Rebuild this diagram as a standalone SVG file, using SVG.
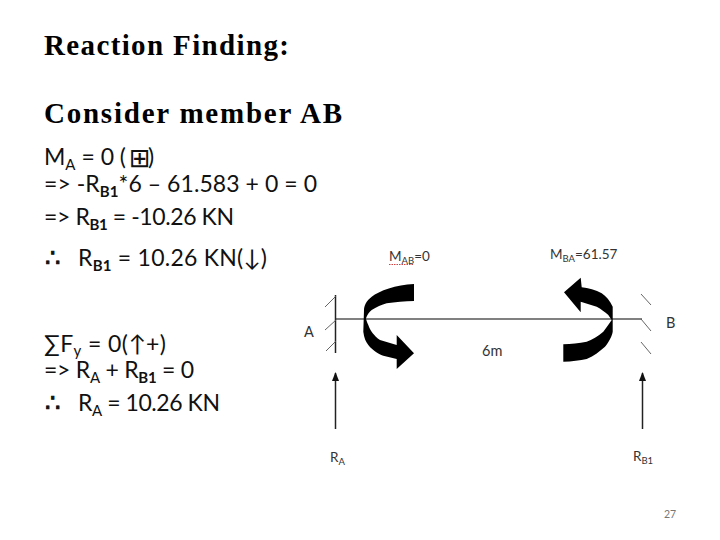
<svg xmlns="http://www.w3.org/2000/svg" width="720" height="540" viewBox="0 0 720 540">
<style>
.h{font:bold 29px "Liberation Serif",serif;fill:#000}
.b{font:23px Lato,"Noto Sans",sans-serif;fill:#111}
.s{font-size:15px;font-weight:400}
.sb{font-size:15px;font-weight:700}
.t{font:13.5px Lato,"Noto Sans",sans-serif;fill:#333}
.l{font:14.500px Lato,"Noto Sans",sans-serif;fill:#333}
.ts{font-size:9.5px}
.d{font:24px "DejaVu Sans",sans-serif;fill:#111}
.th{stroke:#111;stroke-width:.9}
.hatch{stroke:#555;stroke-width:.9;fill:none}
.shaft{stroke:#222;stroke-width:1.5;fill:none}
</style>
<defs>
<marker id="up" markerWidth="9" markerHeight="8" refX="8" refY="3.500" orient="auto" markerUnits="userSpaceOnUse" viewBox="0 0 9 7"><path d="M0 0L9 3.500L0 7Z" fill="#111"/></marker>
</defs>
<g id="text-block">
<text class="h" x="44" y="55" textLength="245">Reaction Finding:</text>
<text class="h" x="44" y="123" textLength="298">Consider member AB</text>
<text class="b" x="44" y="165">M<tspan class="s" dy="5">A</tspan><tspan dy="-5"> = 0 (</tspan></text>
<text class="d" x="129" y="167" style="font-size:26px">⊞</text>
<text class="b" x="148" y="165">)</text>
<text class="b" x="44" y="192" textLength="273">=&gt; -R<tspan class="sb" dy="5">B1</tspan><tspan dy="-5">*6 – 61.583 + 0 = 0</tspan></text>
<text class="b" x="44" y="225" textLength="190">=&gt; R<tspan class="sb" dy="5">B1</tspan><tspan dy="-5"> = -10.26 KN</tspan></text>
<text class="d th" x="45" y="266">∴</text>
<text class="b" x="78" y="266" textLength="189">R<tspan class="sb" dy="5">B1</tspan><tspan dy="-5"> = 10.26 KN(↓)</tspan></text>
<text class="b" x="44" y="352" textLength="122">∑F<tspan class="s" dy="4">y</tspan><tspan dy="-4"> = 0(↑+)</tspan></text>
<text class="b" x="44" y="378" textLength="150">=&gt; R<tspan class="s" dy="5">A</tspan><tspan dy="-5"> + R</tspan><tspan class="sb" dy="5">B1</tspan><tspan dy="-5"> = 0</tspan></text>
<text class="d th" x="45" y="411">∴</text>
<text class="b" x="78" y="411" textLength="142">R<tspan class="s" dy="5">A</tspan><tspan dy="-5"> = 10.26 KN</tspan></text>
</g>
<g id="beam">
<path d="M335.500 319H642" stroke="#808080" stroke-width="2" fill="none"/>
<path d="M335.500 295V353" stroke="#222" stroke-width="1.500" fill="none"/>
<path class="hatch" d="M325 307L336 296M325 330L336 320M326 351L336 341M641 294L651 305M641 319L651 331M641 342L651 354"/>
</g>
<g id="moments">
<path id="moment-a" fill="#000" d="M414 284C396 284.500 379 291 371.700 296.700C366 301 364 306 364 310L363.300 331.700C364 338 366 342 368.300 345C373 351 380 355 383.300 355.700L396.700 359V369L414 353.300L396.700 335V345L380 340C374 336 370 330 368.300 325C367 322 366 320 366 318.300C367 315 369 312 371.700 310C376 307 382 305 386.700 303.300C395 302 405 301 414 301Z"/>
<path id="moment-b" fill="#000" d="M563.300 361.700C572 361.500 580 360.500 586.700 359C594 356 600 351 605 346.700C609 342 612 336 612.700 331.700L612.700 306.700C610 301 606 296 601.700 293.300C596 290 588 288 581.700 287.300L580.700 277.700L564 292.300L580.700 312.300V301.700L596.700 306.700C601 309 605 312 608.300 315L611.700 320C609 324 606 328 603.300 331.700C598 336 592 340 586.700 341.700C579 343.500 571 344 563.300 344.300Z"/>
</g>
<g id="connectors">
<path class="shaft" d="M335.500 429V373" marker-end="url(#up)"/>
<path class="shaft" d="M642.500 429V373" marker-end="url(#up)"/>
</g>
<g id="labels">
<text class="t" x="389" y="261">M<tspan class="ts" dy="3">AB</tspan><tspan dy="-3">=0</tspan></text>
<path d="M389 264.500h24" stroke="#c44" stroke-width="1" stroke-dasharray="1.500 1" fill="none"/>
<text class="t" x="550" y="259">M<tspan class="ts" dy="3">BA</tspan><tspan dy="-3">=61.57</tspan></text>
<text class="l" x="304" y="336.500">A</text>
<text class="l" x="666" y="328">B</text>
<text class="l" x="482" y="356">6m</text>
<text class="t" x="330" y="462">R<tspan class="ts" dy="3">A</tspan></text>
<text class="t" x="633" y="461">R<tspan class="ts" dy="3">B1</tspan></text>
</g>
<text x="664" y="518" style="font:10.500px Lato,'Noto Sans',sans-serif;fill:#777">27</text>
</svg>
